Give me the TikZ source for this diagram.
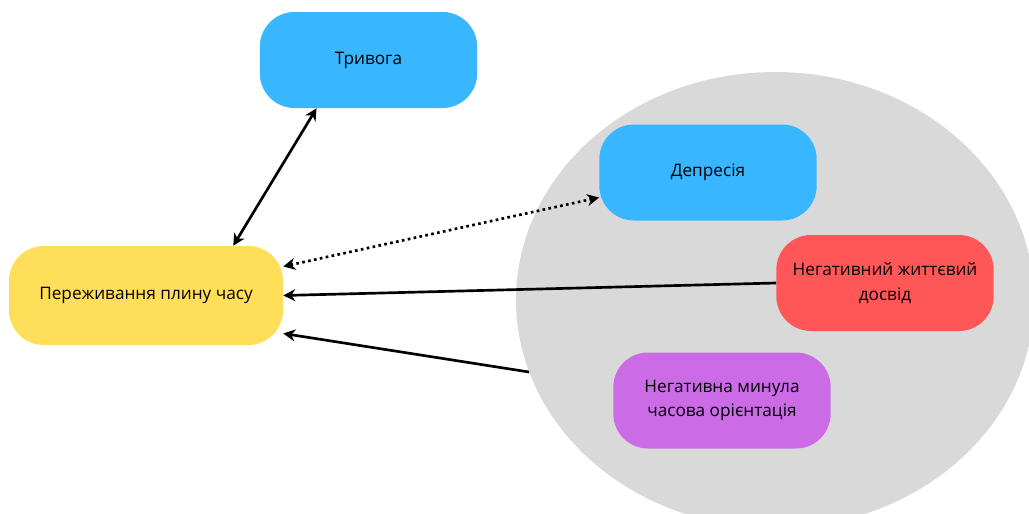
\documentclass[tikz,border=0pt]{standalone}
\usepackage{fontspec}
\setmainfont{Open Sans}
\usetikzlibrary{arrows.meta,calc,positioning}
\definecolor{skyblue}{HTML}{38B6FF}
\definecolor{sunyellow}{HTML}{FFDE59}
\definecolor{coral}{HTML}{FF5757}
\definecolor{orchid}{HTML}{CB6CE6}
\definecolor{cloudgray}{HTML}{D9D9D9}

\begin{document}
\begin{tikzpicture}[x=0.75pt,y=-0.75pt,
    box/.style={fill=#1, rounded corners=26pt, minimum width=163pt, minimum height=72pt,
                align=center, font=\fontsize{12.9}{18.5}\selectfont, inner sep=2pt},
    link/.style={line width=2pt, {Stealth[length=9pt,width=9pt]}-{Stealth[length=9pt,width=9pt]}},
    onelink/.style={line width=2pt, -{Stealth[length=9pt,width=9pt]}},
    dots/.style={dash pattern=on 2pt off 2.5pt}]
                    \useasboundingbox (0,0) rectangle (1029,514);
                    % background cloud
                    \fill [cloudgray] (775,300) ellipse [x radius=259, y radius=228];
                    \coordinate (rim) at (529,372);
                    % boxes
                    \node [box=skyblue] (triv) at (368.5,60) {Тривога};
                    \node [box=skyblue] (depr) at (708,172.5) {Депресія};
                    \node [box=sunyellow, minimum width=205.5pt, minimum height=74.25pt] (pere) at (146,295.5) {Переживання плину часу};
                    \node [box=coral] (exper) at (885,283) {Негативний життєвий\\досвід};
                    \node [box=orchid] (minula) at (722,400.5) {Негативна минула\\часова орієнтація};
                    % links
                    \draw [link] ($(pere.north east)+(-50,0)$) -- ($(triv.south west)+(57,0)$);
                    \draw [link, dots] ($(pere.east)+(0,-29)$) -- ($(depr.west)+(0,25)$);
                    \draw [onelink] (exper.west) -- (pere.east);
                    \draw [onelink] (rim) -- ($(pere.east)+(0,38)$);
\end{tikzpicture}
\end{document}
